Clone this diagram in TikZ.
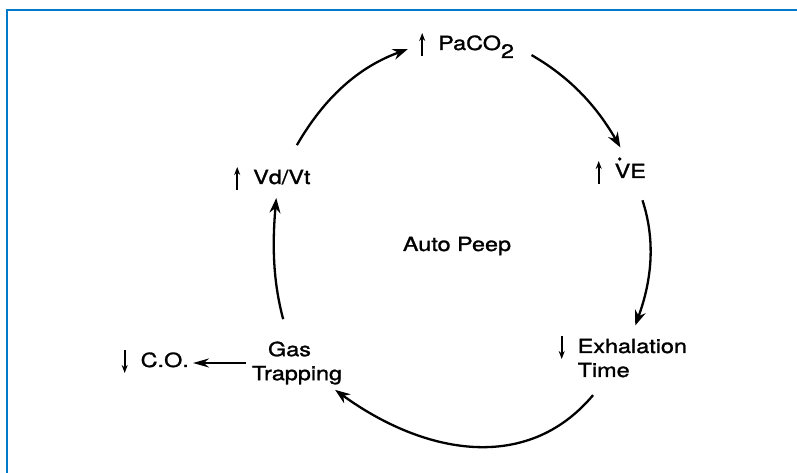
\documentclass[tikz,border=0pt]{standalone}
\usepackage{fontspec}
\setmainfont[FakeStretch=1.2,FakeBold=1.4]{TeX Gyre Heros}
\usetikzlibrary{arrows.meta}
\definecolor{frameblue}{RGB}{0,122,201}
\newcommand{\incr}{\tikz[baseline=0pt]\draw[line width=1.7pt,-{Stealth[length=8pt,width=6pt]}] (0,-6pt) -- (0,17pt);}
\newcommand{\decr}{\tikz[baseline=0pt]\draw[line width=1.7pt,-{Stealth[length=8pt,width=6pt]}] (0,17pt) -- (0,-6pt);}
\newcommand{\rate}{\rlap{\tikz[baseline=0pt]\fill (0,0) (5pt,19pt) circle (1.8pt);}}

\begin{document}
\begin{tikzpicture}[x=1pt,y=1pt,
    txt/.style={inner sep=0pt,font=\fontsize{19.5}{24}\selectfont},
    flow/.style={line width=2.3pt,-{Stealth[length=15pt,width=11pt]}},
    side/.style={line width=2pt,-{Stealth[length=16pt,width=9pt]}}]
    \useasboundingbox (0,0) rectangle (797,473);
    \draw[frameblue,line width=2.5pt] (797,463) -- (7,463) -- (7,0);
    \node[txt,anchor=base west] (pa) at (419,423) {\incr\hspace{13pt}PaCO\raisebox{-8pt}{2}};
    \node[txt,anchor=base west] (ve) at (595.5,295) {\incr\hspace{13pt}\rate VE};
    \node[txt,anchor=base west] (exh) at (558.5,120) {\decr\hspace{13pt}\begin{tabular}[t]{@{}l@{}}Exhalation\\Time\end{tabular}};
    \node[txt,align=center] (gas) at (297,110) {Gas\hspace*{15pt}\\Trapping};
    \node[txt,anchor=base west] (co) at (121.5,106) {\decr\hspace{13pt}C.O.};
    \node[txt,anchor=base west] (vd) at (234,289) {\incr\hspace{13pt}Vd/Vt};
    \node[txt,anchor=base west] (auto) at (402.7,222) {Auto Peep};
    \draw[flow,shorten <=24pt,shorten >=12pt] (vd.45) to[out=60,in=200] (pa.west);
    \draw[flow,shorten <=20pt,shorten >=11pt] (pa.east) to[out=-30,in=120] (ve.70);
    \draw[flow,shorten <=16pt,shorten >=10pt] (ve.-40) to[out=-72,in=70] (exh.70);
    \draw[flow,shorten <=14pt,shorten >=9pt] (exh.-130) to[out=-130,in=-36,looseness=1.1] (gas.-35);
    \draw[flow,shorten <=23pt,shorten >=7pt] (gas.110) to[out=105,in=-95] (vd.-70);
    \draw[side,shorten <=6pt,shorten >=4pt] (gas.west) -- (co.east |- gas.west);
\end{tikzpicture}
\end{document}
